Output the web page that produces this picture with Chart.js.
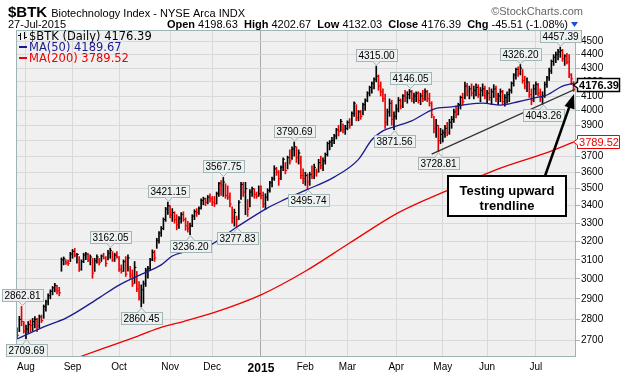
<!DOCTYPE html>
<html><head><meta charset="utf-8">
<script src="https://cdn.jsdelivr.net/npm/chart.js@4/dist/chart.umd.min.js"></script>
<style>html,body{margin:0;padding:0;background:#fff}#wrap{width:621px;height:376px;position:relative}canvas{display:block}</style>
</head><body><div id="wrap"><canvas id="c" width="621" height="376"></canvas></div>
<script>
// ---- data ----
const monthLabels = ['Aug','Sep','Oct','Nov','Dec','2015','Feb','Mar','Apr','May','Jun','Jul'];
const monthStartIdx = [4,25,46,69,88,110,130,149,171,192,212,234];
const yTicks = [2700,2800,2900,3000,3100,3200,3300,3400,3500,3600,3700,3800,3900,4000,4100,4200,4300,4400,4500];

const high = [2760,2815,2862.81,2790,2773,2790,2797,2805,2813,2805,2821,2821,2870,2894,2925,2945,2962,2978,2968,2958,
3110,3115,3100,3098,3140,3155,3161,3135,3117,3100,3135,3140,3135,3126,3108,3108,3126,3108,3126,3135,
3117,3150,3162.05,3144,3135,3144,3117,3073,3099,3117,3126,3065,3047,3091,3039,2987,2970,2990,3056,3065,
3108,3153,3150,3216,3253,3281,3330,3390,3421.15,3400,3383,3365,3348,3338,3360,3365,3330,3310,3300,3348,
3377,3383,3393,3440,3450,3445,3460,3470,3454,3454,3480,3538,3549,3567.75,3530,3517,3475,3393,3380,3340,
3430,3538,3538,3538,3436,3495,3510,3500,3480,3517,3517,3480,3470,3500,3545,3570,3640,3630,3610,3640,
3690,3660,3700,3740,3760,3790.69,3760,3740,3700,3620,3600,3590,3600,3640,3650,3620,3680,3700,3690,3720,
3790,3800,3820,3840,3880,3900,3940,3910,3900,3930,3945,3990,4060,4040,4000,4000,4050,4080,4130,4170,
4200,4230,4315.00,4250,4200,4150,4114,4010,4080,4070,3990,4040,4090,4080,4110,4140,4130,4146.05,4140,4120,
4130,4130,4120,4140,4150,4140,4120,4060,3960,3940,3900,3880,3870,3900,3920,3940,3960,4010,4030,4050,
4100,4120,4198,4190,4170,4186,4170,4186,4180,4160,4186,4170,4140,4160,4150,4180,4170,4120,4150,4140,
4110,4130,4150,4200,4260,4300,4310,4326.20,4290,4240,4230,4200,4150,4180,4200,4190,4150,4130,4200,4240,
4300,4360,4400,4420,4440,4457.39,4440,4400,4410,4400,4260,4202.67];

const low = [2712,2742,2770,2735,2709.69,2735,2742,2745,2760,2742,2760,2785,2805,2840,2870,2900,2920,2935,2925,2915,
3040,3073,3075,3070,3090,3108,3115,3082,3039,3045,3085,3100,3090,3073,3004,3039,3082,3073,3091,3105,
3065,3099,3108,3091,3091,3108,3039,3030,3039,3013,3040,3004,2962,2978,2936,2894,2860.45,2878,2962,3004,
3047,3095,3091,3161,3189,3226,3263,3310,3350,3330,3310,3300,3263,3270,3300,3310,3260,3250,3236.20,3280,
3320,3338,3350,3380,3405,3400,3410,3420,3400,3395,3410,3454,3460,3454,3443,3436,3393,3300,3283,3277.83,
3320,3436,3454,3348,3338,3393,3454,3443,3443,3454,3440,3390,3377,3430,3480,3510,3550,3580,3520,3555,
3610,3590,3620,3650,3680,3700,3660,3650,3560,3530,3520,3495.74,3520,3560,3560,3575,3600,3620,3610,3650,
3700,3740,3760,3780,3810,3830,3860,3850,3840,3870,3880,3900,3960,3930,3930,3940,3970,4000,4060,4100,
4120,4150,4200,4140,4100,4060,3880,3900,3960,3900,3871.56,3940,3990,4010,4020,4060,4050,4080,4060,4050,
4060,4050,4040,4060,4070,4060,4030,3950,3850,3820,3728.81,3780,3790,3820,3830,3840,3880,3920,3950,3970,
4010,4040,4080,4100,4080,4100,4080,4100,4090,4060,4100,4080,4050,4070,4040,4090,4060,4040,4060,4040,
4030,4050,4060,4120,4170,4220,4240,4250,4190,4150,4130,4090,4040,4060,4110,4100,4060,4043.26,4090,4160,
4210,4260,4320,4340,4360,4380,4350,4320,4330,4230,4180,4132.03];

const close = [2725,2800,2790,2745,2755,2775,2770,2790,2800,2770,2812,2795,2862,2885,2915,2938,2955,2968,2940,2930,
3100,3105,3085,3080,3130,3145,3125,3128,3050,3090,3125,3130,3100,3115,3030,3095,3115,3085,3120,3110,
3080,3135,3150,3100,3125,3115,3050,3040,3090,3025,3110,3020,2975,3060,2950,2905,2945,2975,3045,3055,
3100,3140,3110,3205,3245,3270,3320,3380,3400,3345,3360,3320,3290,3325,3350,3320,3285,3270,3285,3340,
3365,3360,3385,3430,3440,3420,3450,3440,3420,3410,3470,3530,3520,3540,3460,3450,3410,3330,3360,3320,
3420,3525,3480,3500,3380,3480,3500,3465,3455,3470,3460,3410,3450,3490,3535,3560,3620,3600,3560,3630,
3680,3610,3690,3670,3745,3760,3690,3720,3580,3560,3580,3540,3585,3570,3630,3600,3660,3640,3670,3710,
3780,3790,3800,3830,3870,3860,3925,3870,3880,3920,3900,3980,4050,3950,3990,3960,4040,4070,4120,4160,
4190,4220,4240,4170,4130,4080,3920,3990,4050,3940,3960,4010,4070,4030,4100,4090,4110,4130,4080,4100,
4120,4070,4100,4080,4130,4080,4050,3970,3880,3900,3800,3840,3850,3880,3850,3920,3940,3990,3970,4040,
4090,4060,4170,4130,4150,4120,4140,4160,4110,4140,4150,4100,4120,4090,4130,4150,4080,4100,4130,4060,
4090,4110,4140,4190,4250,4290,4260,4300,4210,4170,4200,4110,4070,4150,4180,4120,4090,4100,4180,4230,
4280,4350,4380,4400,4420,4430,4370,4390,4345,4250,4221.90,4176.39];

// moving averages at sample days
const ma50Idx = [0,12,22,37,46,55,65,70,86,99,113,119,130,143,154,160,165,170,178,188,196,204,210,218,226,233,239,246,251];
const ma50    = [2708,2765,2806,2905,2969,3019,3073,3120,3171,3277,3387,3426,3490,3570,3680,3805,3863,3890,3930,4010,4024,4044,4051,4037,4060,4086,4107,4170,4189.67];
const ma200Idx = [24,37,52,64,75,88,110,130,150,172,195,218,240,251];
const ma200    = [2612,2658,2712,2759,2790,2830,2920,3040,3190,3360,3495,3625,3727,3789.52];

// trendline end points (day index, value)
const trendIdx = [187.0, 252.1];
const trendVal = [3713, 4150];

// labelled extremes
const markIdx  = [2,4,42,56,68,78,93,99,125,131,162,170,177,190,227,237,245];
const markVal  = [2862.81,2709.69,3162.05,2860.45,3421.15,3236.20,3567.75,3277.83,3790.69,3495.74,4315.00,3871.56,4146.05,3728.81,4326.20,4043.26,4457.39];
const markSide = ['up','down','up','down','up','down','up','down','up','down','up','down','up','down','up','down','up'];

const lastClose = 4176.39, ma50Last = 4189.67, ma200Last = 3789.52;

// ---- chart ----
const FONT = '"Liberation Sans", Arial, sans-serif';
const barColors = close.map((c,i)=> (i>0 && c < close[i-1]) || i===0 ? '#ee0000' : '#000000');

function drawMarkLabel(ctx, text, cx, tipY, up){
  ctx.save();
  ctx.font = '10px ' + FONT;
  const w = Math.round(ctx.measureText(text).width) + 5;
  const h = 12, gap = 5;
  cx = Math.round(cx);
  const x0 = Math.round(cx - w/2) + 0.5;
  const y0 = up ? Math.round(tipY - gap - h) + 0.5 : Math.round(tipY + gap) + 0.5;
  ctx.fillStyle = '#eef1f1'; ctx.strokeStyle = '#a3b5b5'; ctx.lineWidth = 1;
  ctx.fillRect(x0, y0, w, h); ctx.strokeRect(x0, y0, w, h);
  ctx.beginPath();
  if (up){ ctx.moveTo(cx-3.5, y0+h); ctx.lineTo(cx+0.5, tipY-1); ctx.lineTo(cx+4.5, y0+h); }
  else   { ctx.moveTo(cx-3.5, y0);   ctx.lineTo(cx+0.5, tipY+1); ctx.lineTo(cx+4.5, y0); }
  ctx.fill(); ctx.stroke();
  ctx.fillStyle = '#000'; ctx.textAlign = 'center'; ctx.textBaseline = 'middle';
  ctx.fillText(text, cx + 0.5, y0 + h/2 + 0.5);
  ctx.restore();
}

function drawValueBox(ctx, text, y, color, bold){
  ctx.save();
  ctx.font = (bold ? 'bold 11px ' : '11px ') + FONT;
  const x0 = 577.5, w = 42, h = 13;
  const yc = Math.round(y);
  const top = yc - 6.5;
  ctx.fillStyle = '#fff'; ctx.strokeStyle = color; ctx.lineWidth = bold ? 1.5 : 1;
  ctx.beginPath();
  ctx.moveTo(x0, top); ctx.lineTo(x0 + w, top); ctx.lineTo(x0 + w, top + h); ctx.lineTo(x0, top + h);
  ctx.lineTo(x0, yc + 3); ctx.lineTo(x0 - 4, yc); ctx.lineTo(x0, yc - 3); ctx.closePath();
  ctx.fill(); ctx.stroke();
  ctx.fillStyle = color; ctx.textAlign = 'center'; ctx.textBaseline = 'middle';
  ctx.fillText(text, x0 + w/2 + 0.5, yc + 0.5);
  ctx.restore();
}

const decor = {
  id: 'decor',
  beforeDraw(chart){
    const {ctx, chartArea:a} = chart;
    ctx.save();
    ctx.fillStyle = '#ffffff'; ctx.fillRect(0,0,chart.width,chart.height);
    ctx.fillStyle = '#f0f0f0'; ctx.fillRect(a.left, a.top, a.right-a.left, a.bottom-a.top);
    ctx.restore();
  },
  afterDraw(chart){
    const {ctx, chartArea:a} = chart;
    const xs = chart.scales.x, ys = chart.scales.y;
    ctx.save();
    ctx.strokeStyle = '#9fb4b4'; ctx.lineWidth = 1;
    ctx.strokeRect(a.left + 0.5, a.top + 0.5, a.right - a.left - 1, a.bottom - a.top - 1);

    // header line 1
    ctx.fillStyle = '#000'; ctx.textBaseline = 'alphabetic'; ctx.textAlign = 'left';
    ctx.font = 'bold 15px ' + FONT; ctx.fillText('$BTK', 8, 17);
    const w1 = ctx.measureText('$BTK').width;
    ctx.font = '11px ' + FONT; ctx.fillText('Biotechnology Index - NYSE Arca INDX', 8 + w1 + 4, 17);
    ctx.fillStyle = '#666'; ctx.textAlign = 'right'; ctx.font = '11px ' + FONT;
    ctx.fillText('\u00A9StockCharts.com', 583, 15);
    // header line 2
    ctx.fillStyle = '#000'; ctx.textAlign = 'left'; ctx.font = '11px ' + FONT;
    ctx.fillText('27-Jul-2015', 8, 28);
    const segs = [['Open',1],[' 4198.63  ',0],['High',1],[' 4202.67  ',0],['Low',1],[' 4132.03  ',0],['Close',1],[' 4176.39  ',0],['Chg',1],[' -45.51 (-1.08%)',0]];
    let tot = 0;
    segs.forEach(s=>{ ctx.font = (s[1]?'bold ':'') + '11px ' + FONT; s.push(ctx.measureText(s[0]).width); tot += s[2]; });
    let x = 568 - tot;
    segs.forEach(s=>{ ctx.font = (s[1]?'bold ':'') + '11px ' + FONT; ctx.fillText(s[0], x, 28); x += s[2]; });
    ctx.fillStyle = '#1e4fd8';
    ctx.beginPath(); ctx.moveTo(571, 22); ctx.lineTo(578, 22); ctx.lineTo(574.5, 27); ctx.closePath(); ctx.fill();

    // in-plot legend
    ctx.strokeStyle = '#000'; ctx.lineWidth = 1;
    ctx.beginPath();
    ctx.moveTo(20.5, 33); ctx.lineTo(20.5, 40); ctx.moveTo(18, 35.5); ctx.lineTo(20.5, 35.5);
    ctx.moveTo(24.5, 32); ctx.lineTo(24.5, 39); ctx.moveTo(24.5, 37.5); ctx.lineTo(27, 37.5);
    ctx.stroke();
    ctx.font = '11.5px "DejaVu Sans", Verdana, sans-serif'; ctx.textAlign = 'left';
    ctx.fillStyle = '#000'; ctx.fillText('$BTK (Daily) ' + lastClose.toFixed(2), 29, 40);
    ctx.fillStyle = '#1a1a8e'; ctx.fillRect(19, 46, 8, 2);
    ctx.fillText('MA(50) ' + ma50Last.toFixed(2), 29, 51);
    ctx.fillStyle = '#ee0000'; ctx.fillRect(19, 57, 8, 2);
    ctx.fillText('MA(200) ' + ma200Last.toFixed(2), 29, 62);

    markIdx.forEach((ix,k)=>{
      const px = xs.getPixelForValue(ix), py = ys.getPixelForValue(markVal[k]);
      drawMarkLabel(ctx, markVal[k].toFixed(2), px, py, markSide[k]==='up');
    });

    drawValueBox(ctx, ma200Last.toFixed(2), ys.getPixelForValue(ma200Last), '#ee0000', false);
    drawValueBox(ctx, lastClose.toFixed(2), ys.getPixelForValue(lastClose), '#000000', true);

    // annotation arrow + box
    ctx.strokeStyle = '#000'; ctx.lineWidth = 2.5; ctx.lineCap = 'butt';
    ctx.beginPath(); ctx.moveTo(545, 176); ctx.lineTo(570, 105); ctx.stroke();
    ctx.fillStyle = '#000';
    ctx.beginPath(); ctx.moveTo(574, 94); ctx.lineTo(564.5, 106); ctx.lineTo(574.5, 109.5); ctx.closePath(); ctx.fill();
    ctx.fillStyle = '#fff'; ctx.fillRect(448, 176, 118, 40);
    ctx.lineWidth = 2; ctx.strokeRect(448, 176, 118, 40);
    ctx.fillStyle = '#000'; ctx.textAlign = 'center'; ctx.font = 'bold 13px ' + FONT;
    ctx.fillText('Testing upward', 507, 195);
    ctx.fillText('trendline', 507, 210);
    ctx.restore();
  }
};

new Chart(document.getElementById('c'), {
  data: {
    datasets: [
      { type:'bar', data: high.map((h,i)=>({x:i, y:[low[i], h]})), backgroundColor: barColors,
        barThickness: 1, borderWidth: 0, grouped: false, order: 5 },
      { type:'scatter', data: close.map((c,i)=>({x:i+0.42, y:c})), pointStyle:'line', pointRadius: 0.9,
        pointBorderWidth: 1, pointBorderColor: barColors, pointBackgroundColor: barColors, order: 4 },
      { type:'line', data: ma200Idx.map((x,k)=>({x, y:ma200[k]})), borderColor:'#ee0000', borderWidth:1.3,
        pointRadius:0, fill:false, cubicInterpolationMode:'monotone', order: 2 },
      { type:'line', data: ma50Idx.map((x,k)=>({x, y:ma50[k]})), borderColor:'#1a1a8e', borderWidth:1.3,
        pointRadius:0, fill:false, cubicInterpolationMode:'monotone', order: 1 },
      { type:'line', data: trendIdx.map((x,k)=>({x, y:trendVal[k]})), borderColor:'#333333', borderWidth:1.3,
        pointRadius:0, fill:false, order: 0 }
    ]
  },
  options: {
    responsive:false, animation:false, maintainAspectRatio:false,
    layout:{ padding:{ left:16, top:30, right:0, bottom:0 } },
    plugins:{ legend:{display:false}, tooltip:{enabled:false} },
    scales:{
      x:{ type:'linear', min:-0.5, max:252.1, offset:false, bounds:'data',
          afterBuildTicks: s => { s.ticks = monthStartIdx.map(v=>({value:v})); },
          afterFit: s => { s.height = 19; },
          ticks:{ autoSkip:false, maxRotation:0, padding:4, color:'#000',
                  callback:(v,i)=> monthLabels[i],
                  font: c => (c.tick && c.tick.value===110) ? {family:FONT, size:12, weight:'bold'} : {family:FONT, size:10} },
          grid:{ offset:false, drawTicks:false, color: c => (c.tick && c.tick.value===110) ? '#a8a8a8' : '#d9d9d9' },
          border:{ display:false } },
      y:{ type:'logarithmic', position:'right', min:2626, max:4589,
          afterBuildTicks: s => { s.ticks = yTicks.map(v=>({value:v})); },
          afterFit: s => { s.width = 45; },
          ticks:{ autoSkip:false, padding:1, color:'#000', font:{family:FONT, size:10}, callback: v => String(v) },
          grid:{ color:'#d9d9d9', tickLength:4, tickColor:'#9fb4b4' },
          border:{ display:false } }
    }
  },
  plugins:[decor]
});
</script></body></html>
